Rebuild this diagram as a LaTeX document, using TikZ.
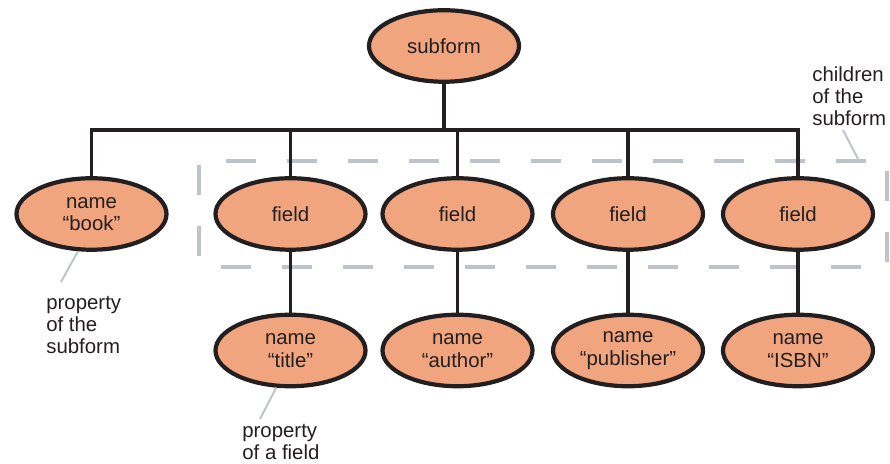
\documentclass[tikz,border=0pt]{standalone}
\usepackage{fontspec}
\setmainfont{Liberation Sans}
\usepackage{xcolor}
\usepackage{tikz}
\usetikzlibrary{shapes.geometric}

\definecolor{salmon}{RGB}{240,165,126}
\definecolor{ink}{RGB}{35,31,32}
\definecolor{hint}{RGB}{190,195,202}

\begin{document}
\begin{tikzpicture}[
        every node/.style={font=\fontsize{11.6}{12.8}\selectfont, text=ink},
        elem/.style={ellipse, draw=ink, line width=2.4pt, fill=salmon,
            minimum width=3.0cm, minimum height=1.43cm, inner sep=0pt, align=center},
        link/.style={draw=ink, line width=1.9pt},
        pointer/.style={draw=hint, line width=1.1pt},
        note/.style={align=left, anchor=base west, inner sep=0pt}
    ]
                \useasboundingbox (0,0) rectangle (17.8,9.28);

                % the children of the subform
                \node[
                    draw=hint,
                    line width=2.3pt,
                    dash pattern=on 0.6cm off 0.62cm,
                    dash phase=0.78cm,
                    minimum width=13.76cm,
                    minimum height=2.12cm,
                    inner sep=0pt
                ] (kids) at (10.86,5.0) {};

                \node[elem] (sub) at (8.88,8.36) {subform};
                \node[elem] (book) at (1.83,5.0) {name\\“book”};

                \foreach \i/\x in {1/5.81, 2/9.15, 3/12.56, 4/15.96}
                    \node[elem] (f\i) at (\x,5.0) {field};

                \foreach \i/\x/\t in {1/5.81/title, 2/9.15/author, 3/12.56/publisher, 4/15.96/ISBN}
                    \node[elem] (n\i) at (\x,2.27) {name\\“\t”};

                % tree lines
                \coordinate (bus) at (0,6.68);
                \draw[link] (sub) -- (sub |- bus);
                \draw[link] (book.north) |- (f4 |- bus) -- (f4.north);
                \foreach \i in {1,2,3}
                    \draw[link] (f\i.north) -- (f\i.north |- bus);
                \foreach \i in {1,...,4}
                    \draw[link] (f\i) -- (n\i);

                % notes (base is the last line)
                \node[note] (kidsnote) at (16.24,6.76) {children\\of the\\subform};
                \node[note] (booknote) at (0.92,2.2) {property\\of the\\subform};
                \node[note] (fieldnote) at (4.84,0.08) {property\\of a field};

                \coordinate (kidsend) at (16.86,6.68);
                \draw[pointer] (kidsend) -- (kids.north -| 17.16,0);
                \coordinate (bookend) at (1.22,3.64);
                \draw[pointer] (book.250) -- (bookend);
                \coordinate (fieldend) at (5.2,0.9);
                \draw[pointer] (n1.249) -- (fieldend);

            \end{tikzpicture}
\end{document}
